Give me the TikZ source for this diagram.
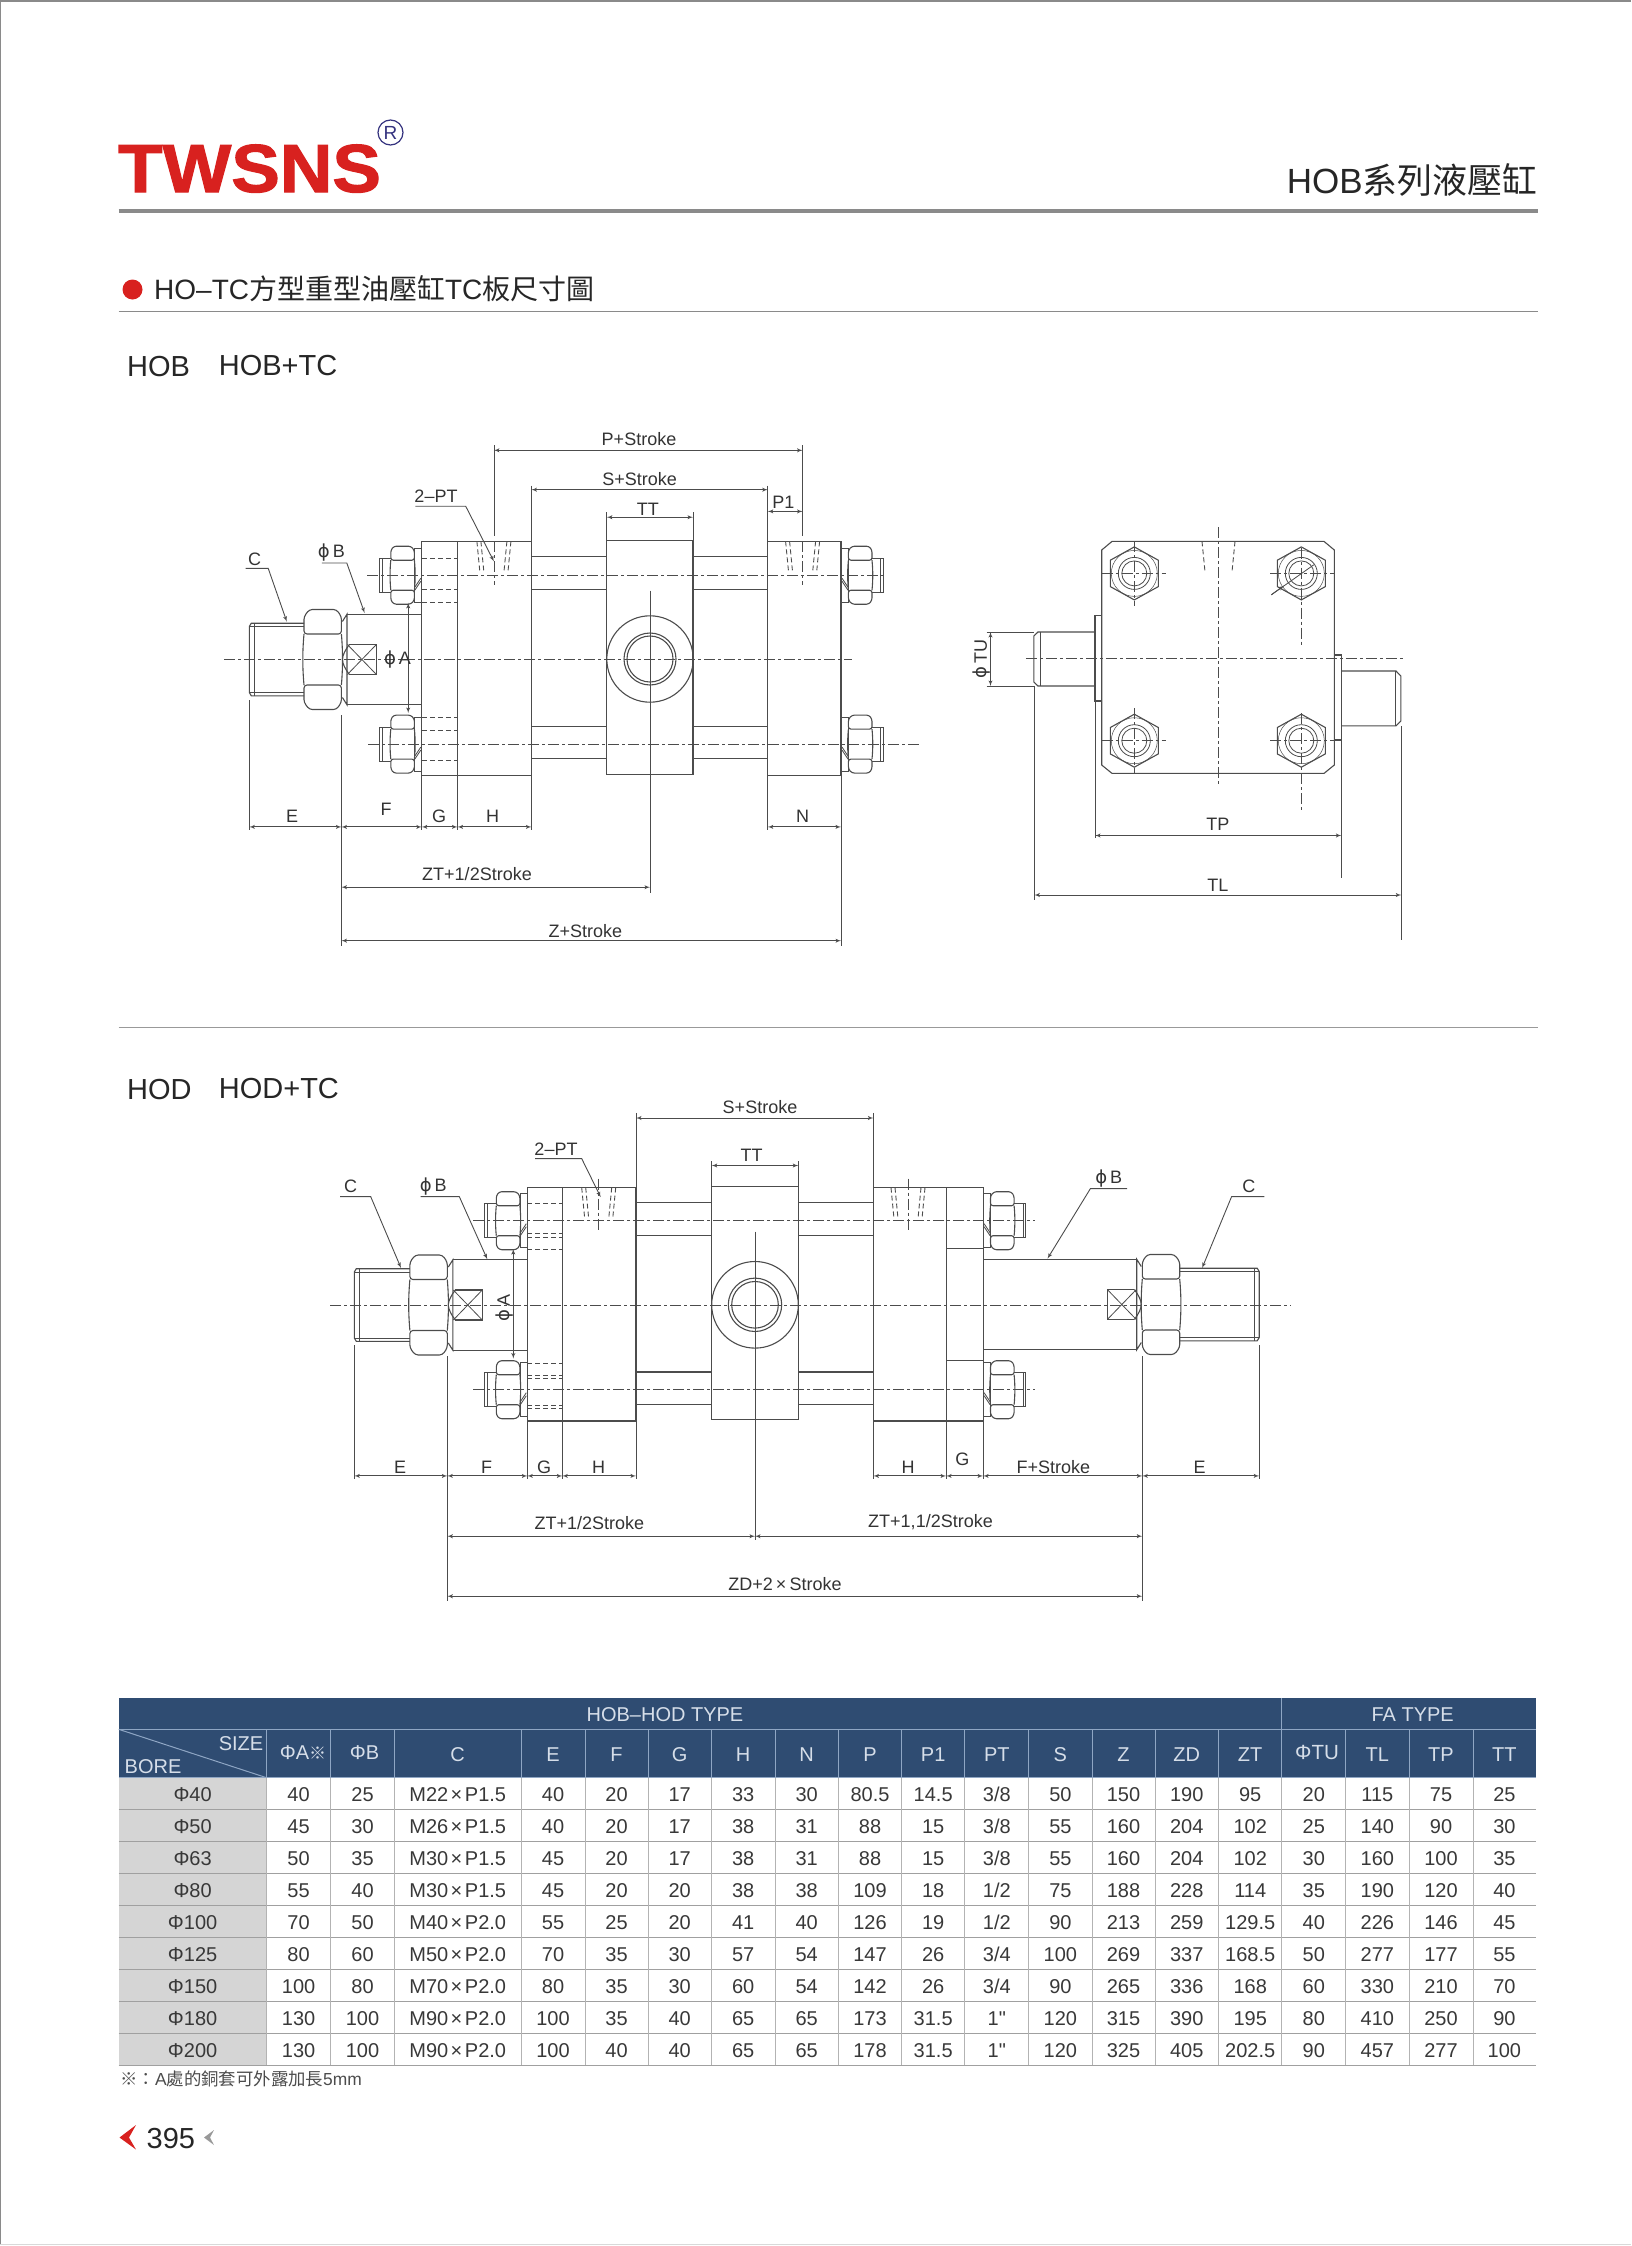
\documentclass[tikz,border=0pt]{standalone}
\usepackage{fontspec}
\setmainfont{Liberation Sans}
\newfontfamily\cjk{Noto Sans CJK TC}
\newfontfamily\symf{DejaVu Sans}
\newfontfamily\rawf{Liberation Sans}
\newfontfamily\logofont{Liberation Sans}[BoldFeatures={FakeBold=1.6}]
\usetikzlibrary{calc}
\usetikzlibrary{arrows}

\definecolor{logored}{HTML}{D8211F}
\definecolor{regblue}{HTML}{35337F}
\definecolor{inkgrey}{HTML}{4C4C4C}
\definecolor{rulegrey}{HTML}{8A8A8A}
\definecolor{tablehead}{HTML}{2F4C72}
\definecolor{headline}{HTML}{8FA6C4}
\definecolor{headtext}{HTML}{D6DEE9}
\definecolor{borefill}{HTML}{D5D5D5}
\definecolor{cellline}{HTML}{A0A0A0}

\tikzset{
  part/.style={draw=inkgrey,line width=1.1pt},
  thinline/.style={draw=inkgrey,line width=.8pt},
  centreline/.style={draw=inkgrey,line width=.75pt,dash pattern=on 11pt off 3pt on 3pt off 3pt},
  hiddenline/.style={draw=inkgrey,line width=.9pt,dash pattern=on 5pt off 3pt},
  dimline/.style={draw=inkgrey,line width=.9pt,latex'-latex'},
  leaderline/.style={draw=inkgrey,line width=.9pt,-latex'},
  dimlabel/.style={inner sep=0pt,text=black!80,font=\fontsize{18}{20}\selectfont},
  cellnum/.style={inner sep=0pt,text=black!78,text height=14pt,text depth=0pt,font=\fontsize{20}{22}\selectfont},
  headcell/.style={inner sep=0pt,text=headtext,text height=14.5pt,text depth=0pt,font=\fontsize{20}{22}\selectfont},
  heading/.style={inner sep=0pt,anchor=base west,text=black!85}
}

\newcommand{\dia}{{\symf ϕ}}
\newcommand{\mby}{\kern2.5pt×\kern2.5pt}

\newcommand{\dimarrow}[5]{
  \coordinate (#1-a) at (#2,#3);
  \coordinate (#1-b) at (#4,#5);
  \draw[dimline] (#1-a) -- (#1-b);
}
\newcommand{\dimtext}[4]{\node[dimlabel] (#1) at (#2,#3) {#4};}
\newcommand{\leader}[6]{
  \coordinate (#1-a) at (#2,#3);
  \coordinate (#1-b) at (#4,#3);
  \coordinate (#1-c) at (#5,#6);
  \draw[leaderline] (#1-a) -- (#1-b) -- (#1-c);
}

\newcommand{\bolt}[3]{
\begin{scope}[shift={(#1,#2)},xscale=#3]
  \draw[part] (0,-27) rectangle (7.2,27);
  \draw[part,rounded corners=2.5pt] (7.4,-15) -- (7.4,-25) -- (11,-29) -- (28,-29) -- (31,-25) -- (31,-15) -- cycle;
  \draw[part,rounded corners=2.5pt] (7.4,15) -- (7.4,25) -- (11,29) -- (28,29) -- (31,25) -- (31,15) -- cycle;
  \draw[part] (7.4,-15) .. controls (6.4,-5) and (6.4,5) .. (7.4,15);
  \draw[part] (31,-15) .. controls (32,-5) and (32,5) .. (31,15);
  \draw[part] (31,-17) -- (42.5,-17) -- (42.5,17) -- (31,17);
  \draw[thinline] (39.8,-17) -- (39.8,17);
  \draw[thinline] (7,12) -- (1,3);
  \draw[thinline] (7,15) -- (1,6);
\end{scope}
}

\newcommand{\rodend}[5]{
\begin{scope}[shift={(#1,#2)},xscale=#3]
  \draw[part,rounded corners=3pt] (0,-25.5) -- (0,-43) -- (5,-50) -- (32,-50) -- (37.4,-43) -- (37.4,-25.5) -- cycle;
  \draw[part,rounded corners=3pt] (0,25.5) -- (0,43) -- (5,50) -- (32,50) -- (37.4,43) -- (37.4,25.5) -- cycle;
  \draw[part] (0,-25.5) .. controls (-1.5,-8) and (-1.5,8) .. (0,25.5);
  \draw[part] (37.4,-25.5) .. controls (39,-8) and (39,8) .. (37.4,25.5);
  \draw[part] (37.4,-36.3) -- ($(#4,-36.3)+(-2,0)$) -- (#4,-33) -- (#4,33) -- ($(#4,36.3)+(-2,0)$) -- (37.4,36.3);
  \draw[thinline] (37.4,-33) -- (#4,-33);
  \draw[thinline] (37.4,33) -- (#4,33);
  \draw[thinline] ($(#4,-36.3)+(-4.6,0)$) -- ($(#4,36.3)+(-4.6,0)$);
  \draw[part] (-1,-38) -- (-5.6,-45.3) -- (-5.6,45.3) -- (-1,38);
  \draw[part] (-5.6,-45.3) -- (-#5,-45.3);
  \draw[part] (-5.6,45.3) -- (-#5,45.3);
  \draw[part] (-8,-15) -- (-35,-15) -- (-35,15) -- (-8,15);
  \draw[part] (-8,-15) .. controls (-4,-10) and (-1,-4) .. (-1,0) .. controls (-1,4) and (-4,10) .. (-8,15);
  \draw[thinline] (-35,-15) -- (-6,15);
  \draw[thinline] (-35,15) -- (-6,-15);
\end{scope}
}

\newcommand{\ports}[4]{
\begin{scope}[shift={(#1,#2)}]
  \draw[centreline] (0,#3) -- (0,#4);
  \draw[hiddenline] (-17,0) -- (-14,31);
  \draw[hiddenline] (-13,0) -- (-10,31);
  \draw[hiddenline] (17,0) -- (14,31);
  \draw[hiddenline] (13,0) -- (10,31);
\end{scope}
}

\newcommand{\boltend}[2]{
\begin{scope}[shift={(#1,#2)}]
  \draw[part] (0,-26.5) -- (24,-13.2) -- (24,13.2) -- (0,26.5) -- (-24,13.2) -- (-24,-13.2) -- cycle;
  \draw[thinline,line width=.5pt] (0,0) circle (23);
  \draw[thinline] (0,0) circle (16);
  \draw[thinline] (0,0) circle (12.5);
\end{scope}
}

\def\colarr{{192.6,298.6,362.5,457.7,553,616.5,679.7,743.2,806.7,870,933.2,996.8,1060.4,1123.5,1186.7,1250.2,1313.8,1377.3,1441,1504.4}}
\newcommand{\tablerow}[3]{
  \foreach \cellval [count=\cellidx] in {#3} {
    \pgfmathsetmacro\cellx{\colarr[\cellidx-1]}
    \node[cellnum] (r#1c\cellidx) at (\cellx,#2) {\cellval};
  }
}

\begin{document}
\begin{tikzpicture}[x=1pt,y=-1pt]
\useasboundingbox (0,0) rectangle (1631,2246);

\draw[draw=rulegrey,line width=2pt] (0,1) -- (1631,1);
\draw[draw=rulegrey,line width=1.2pt] (.6,0) -- (.6,2244);
\draw[draw=black!15,line width=1.2pt] (0,2244.5) -- (1631,2244.5);

\node[inner sep=0pt,anchor=base west,text=logored] (logo) at (118,192)
  {\fontsize{68}{68}\selectfont\logofont\bfseries\scalebox{1.07}[1]{TWSNS}};
\node[draw=regblue,circle,line width=1.2pt,minimum size=25pt,inner sep=0pt,text=regblue,
  font=\fontsize{19}{19}\selectfont] (regmark) at (390.5,132.5) {R};
\node[heading,anchor=base east] (series) at (1538,193)
  {\fontsize{35}{36}\selectfont HOB{\cjk 系列液壓缸}};
\draw[draw=rulegrey,line width=3.5pt] (118.7,211) -- (1538,211);

\node[circle,fill=logored,inner sep=0pt,minimum size=20pt] (bullet) at (132.5,289.5) {};
\node[heading] (title) at (154,299)
  {\fontsize{28}{30}\selectfont HO--TC{\cjk 方型重型油壓缸}TC{\cjk 板尺寸圖}};
\draw[draw=rulegrey,line width=1.3pt] (118.7,311.7) -- (1538,311.7);

\node[heading] (hobname) at (127,376) {\fontsize{29}{30}\selectfont HOB};
\node[heading] (hobtc) at (218.7,375) {\fontsize{29}{30}\selectfont HOB+TC};

\draw[part] (421.8,541.4) rectangle (457.5,775.2);
\draw[part] (457.5,541.4) rectangle (531.4,775.2);
\draw[part] (767.8,541.4) rectangle (841,775.2);
\draw[part] (606.8,540.7) rectangle (693,774.5);
\foreach \y in {556.6,589.7,726.2,758.6} {
  \draw[part] (531.4,\y) -- (606.8,\y);
  \draw[part] (693,\y) -- (767.8,\y);
}
\draw[part] (650,659) circle (43.2);
\draw[part] (650,659) circle (26);
\draw[part] (650,659) circle (23);
\bolt{421.8}{575.2}{-1}
\bolt{421.8}{744.1}{-1}
\bolt{841}{575.2}{1}
\bolt{841}{744.1}{1}
\rodend{341.4}{659.5}{-1}{92.1}{80.4}
\foreach \y in {558,589,602.8,717,730,760.7} {
  \draw[hiddenline] (421.8,\y) -- (457.5,\y);
}
\ports{493.9}{541.4}{0}{44}
\ports{802.6}{541.4}{0}{44}
\draw[centreline] (224,659.7) -- (851.7,659.7);
\draw[centreline] (367,575.2) -- (883,575.2);
\draw[centreline] (368,744.1) -- (918.7,744.1);

\foreach \x/\ya/\yb in {249.3/700/830,341.4/715/946,421.8/775/830,457.5/775/830,531.4/485.5/830,
  767.8/485.5/830,841/775/946,650/590.7/893,606.8/512/540.7,693/512/540.7,493.9/445/535.5,802.6/445/535.5} {
  \draw[thinline] (\x,\ya) -- (\x,\yb);
}
\dimarrow{pstroke}{493.9}{450.3}{802.6}{450.3}
\dimarrow{sstroke}{531.4}{489.7}{767.8}{489.7}
\dimarrow{ttop}{606.8}{517.2}{693}{517.2}
\dimarrow{ponedim}{767.8}{511.4}{802.6}{511.4}
\dimarrow{edim}{249.3}{826.9}{341.4}{826.9}
\dimarrow{fdim}{341.4}{826.9}{421.8}{826.9}
\dimarrow{gdim}{421.8}{826.9}{457.5}{826.9}
\dimarrow{hdim}{457.5}{826.9}{531.4}{826.9}
\dimarrow{ndim}{767.8}{826.9}{841}{826.9}
\dimarrow{ztdim}{341.4}{887.2}{650}{887.2}
\dimarrow{zdim}{341.4}{940.7}{841}{940.7}
\dimarrow{adim}{408.2}{602.8}{408.2}{713}
\dimtext{pstroket}{639}{439}{P+Stroke}
\dimtext{sstroket}{639.6}{479.3}{S+Stroke}
\dimtext{ttopt}{647.9}{509}{TT}
\dimtext{ponet}{783.4}{502}{P1}
\dimtext{et}{292}{816.6}{E}
\dimtext{ft}{386}{809.7}{F}
\dimtext{gt}{439}{816.6}{G}
\dimtext{ht}{492.5}{816.6}{H}
\dimtext{nt}{802.6}{816.6}{N}
\dimtext{ztt}{477}{874}{ZT+1/2Stroke}
\dimtext{zt}{585.4}{931}{Z+Stroke}
\dimtext{at}{397.5}{659.7}{\dia\,A}
\dimtext{twopt}{436}{496.6}{2--PT}
\dimtext{bt}{331.4}{552.8}{\dia\,B}
\dimtext{ct}{254.6}{559}{C}
\leader{twopl}{415.4}{506.2}{465.7}{493.9}{561.4}
\leader{bl}{321.8}{563}{346.8}{364.6}{613}
\leader{cl}{245.7}{568.3}{268.2}{286.8}{621.7}

\draw[part] (1112,541.4) -- (1324,541.4) -- (1334.3,550) -- (1334.3,765) -- (1324,773.4) -- (1112,773.4) -- (1101.7,765) -- (1101.7,550) -- cycle;
\boltend{1134.3}{573.4}
\boltend{1301.3}{573.4}
\boltend{1134.3}{740.7}
\boltend{1301.3}{740.7}
\draw[part] (1101.7,615.9) -- (1095,615.9) -- (1095,701) -- (1101.7,701);
\draw[part] (1095,632) -- (1038,632) -- (1033.8,636) -- (1033.8,682) -- (1038,686) -- (1095,686);
\draw[thinline] (1040,632) -- (1040,686);
\draw[part] (1334.3,655) -- (1341.4,655) -- (1341.4,740) -- (1334.3,740);
\draw[part] (1341.4,671) -- (1396,671) -- (1400.8,676) -- (1400.8,721) -- (1396,725.9) -- (1341.4,725.9);
\draw[thinline] (1395,671) -- (1395,725.9);
\draw[centreline] (1025.8,658.6) -- (1405,658.6);
\draw[centreline] (1218.7,527) -- (1218.7,785.5);
\foreach \y in {573.4,740.7} {
  \draw[centreline] (1101.7,\y) -- (1166.4,\y);
  \draw[centreline] (1270,\y) -- (1334.3,\y);
}
\draw[centreline] (1134.3,541.4) -- (1134.3,606);
\draw[centreline] (1134.3,708) -- (1134.3,773.4);
\draw[centreline] (1301.3,547.6) -- (1301.3,645.9);
\draw[centreline] (1301.3,713) -- (1301.3,813);
\draw[hiddenline] (1202,541.4) -- (1205,571.7);
\draw[hiddenline] (1235,541.4) -- (1232,571.7);
\coordinate (holea) at (1271.3,594.8);
\coordinate (holeb) at (1313.8,564.8);
\coordinate (holec) at (1284,585.6);
\draw[thinline] (holea) -- (holeb);
\draw[leaderline] (holea) -- (holec);

\foreach \x/\ya/\yb in {1095/701/838,1341.4/740/878,1034.3/686/900,1401.3/726/940} {
  \draw[thinline] (\x,\ya) -- (\x,\yb);
}
\draw[thinline] (986.5,632) -- (1033.8,632);
\draw[thinline] (986.5,686) -- (1033.8,686);
\dimarrow{tudim}{990.5}{632}{990.5}{686}
\dimarrow{tpdim}{1095}{835.5}{1341.4}{835.5}
\dimarrow{tldim}{1034.3}{895}{1401.3}{895}
\node[dimlabel,rotate=90] (tut) at (982,659) {\dia\,TU};
\dimtext{tpt}{1217.8}{824}{TP}
\dimtext{tlt}{1217.8}{884.8}{TL}

\draw[draw=black!40,line width=1pt] (118.7,1027.5) -- (1538,1027.5);
\node[heading] (hodname) at (127,1099.5) {\fontsize{29}{30}\selectfont HOD};
\node[heading] (hodtc) at (218.7,1098.5) {\fontsize{29}{30}\selectfont HOD+TC};

\draw[part] (527.3,1187.6) rectangle (562.3,1421);
\draw[part] (562.3,1187.6) rectangle (636,1421);
\draw[part] (711.7,1186.2) rectangle (798.3,1419.7);
\draw[part] (873.4,1187.6) rectangle (946.1,1421);
\draw[part] (946.1,1187.6) rectangle (983.1,1421);
\draw[part] (946.1,1248.5) -- (983.1,1248.5);
\draw[part] (946.1,1360.3) -- (983.1,1360.3);
\foreach \y in {1202.4,1235.2,1372,1404.8} {
  \draw[part] (636,\y) -- (711.7,\y);
  \draw[part] (798.3,\y) -- (873.4,\y);
}
\draw[part] (755,1304.8) circle (43.3);
\draw[part] (755,1304.8) circle (26.7);
\draw[part] (755,1304.8) circle (23.3);
\bolt{527.3}{1220.7}{-1}
\bolt{527.3}{1389.7}{-1}
\bolt{983.1}{1220.7}{1}
\bolt{983.1}{1389.7}{1}
\rodend{447.3}{1305}{-1}{93}{80}
\rodend{1142.3}{1304.5}{1}{116.9}{159.2}
\foreach \y in {1203.5,1233,1237,1249,1363,1375,1378,1405,1408} {
  \draw[hiddenline] (527.3,\y) -- (562.3,\y);
}
\ports{598.7}{1187.6}{-9}{44}
\ports{908}{1187.6}{-9}{44}
\draw[centreline] (330,1305.5) -- (1290.4,1305.5);
\draw[centreline] (473.3,1220.7) -- (1035.4,1220.7);
\draw[centreline] (473.3,1389.7) -- (1035.4,1389.7);

\foreach \x/\ya/\yb in {354.3/1345/1479,447.3/1356/1600.7,527.3/1421/1479,562.3/1421/1479,636/1112.8/1479,
  755/1231.7/1540,711.7/1161/1186.2,798.3/1161/1186.2,873.4/1112.8/1479,946.1/1421/1479,983.1/1421/1479,
  1142.3/1356/1600.7,1259.2/1345/1479} {
  \draw[thinline] (\x,\ya) -- (\x,\yb);
}
\dimarrow{sstrokeb}{636}{1118}{873.4}{1118}
\dimarrow{ttopb}{711.7}{1165.5}{798.3}{1165.5}
\dimarrow{adimb}{513.3}{1249}{513.3}{1358.6}
\dimarrow{edimb}{354.3}{1475.9}{447.3}{1475.9}
\dimarrow{fdimb}{447.3}{1475.9}{527.3}{1475.9}
\dimarrow{gdimb}{527.3}{1475.9}{562.3}{1475.9}
\dimarrow{hdimb}{562.3}{1475.9}{636}{1475.9}
\dimarrow{hdimc}{873.4}{1475.9}{946.1}{1475.9}
\dimarrow{gdimc}{946.1}{1475.9}{983.1}{1475.9}
\dimarrow{fdimc}{983.1}{1475.9}{1142.3}{1475.9}
\dimarrow{edimc}{1142.3}{1475.9}{1259.2}{1475.9}
\dimarrow{ztdimb}{447.3}{1536.2}{755}{1536.2}
\dimarrow{ztdimc}{755}{1536.2}{1142.3}{1536.2}
\dimarrow{zddim}{447.3}{1596.2}{1142.3}{1596.2}
\dimtext{sstroketb}{760}{1107}{S+Stroke}
\dimtext{ttoptb}{751.7}{1155}{TT}
\dimtext{twoptb}{556}{1149}{2--PT}
\dimtext{btb}{433.3}{1186.9}{\dia\,B}
\dimtext{ctb}{350.7}{1186.2}{C}
\dimtext{btc}{1108.7}{1178.6}{\dia\,B}
\dimtext{ctc}{1248.9}{1186.2}{C}
\node[dimlabel,rotate=90] (atb) at (505,1307.6) {\dia\,A};
\dimtext{etb}{400}{1466.9}{E}
\dimtext{ftb}{486.7}{1466.9}{F}
\dimtext{gtb}{544}{1466.9}{G}
\dimtext{htb}{598.7}{1466.9}{H}
\dimtext{htc}{908}{1466.9}{H}
\dimtext{gtc}{962.4}{1459.3}{G}
\dimtext{ftc}{1053.4}{1466.9}{F+Stroke}
\dimtext{etc}{1199.7}{1466.9}{E}
\dimtext{zttb}{589.3}{1523}{ZT+1/2Stroke}
\dimtext{zttc}{930.5}{1522}{ZT+1,1/2Stroke}
\dimtext{zdt}{785}{1584.5}{ZD+2\,×\,Stroke}
\leader{twoplb}{535}{1158.6}{581.7}{600.7}{1197.2}
\leader{blb}{420.7}{1196.6}{459.3}{487.3}{1259.3}
\leader{clb}{340}{1196.6}{370.7}{401}{1268}
\leader{blc}{1127}{1188.6}{1090.4}{1047.5}{1258.6}
\leader{clc}{1264.4}{1196.6}{1231.6}{1202.1}{1268}

\fill[tablehead] (118.7,1698.3) rectangle (1535.9,1777.7);
\fill[borefill] (118.7,1777.7) rectangle (266.6,2065.3);
\draw[draw=headline,line width=1pt] (118.7,1729.3) -- (1535.9,1729.3);
\draw[draw=headline,line width=1pt] (118.7,1777.7) -- (1535.9,1777.7);
\draw[draw=headline,line width=1pt] (118.7,1729.3) -- (266.6,1777.7);
\draw[draw=headline,line width=1pt] (1281.9,1698.3) -- (1281.9,1729.3);
\foreach \y in {1809.3,1841.7,1873.7,1905.7,1937.7,1969.3,2001.7,2033.3,2065.3} {
  \draw[draw=cellline,line width=1.2pt] (118.7,\y) -- (1535.9,\y);
}
\foreach \x in {266.6,330.6,394.5,521,585,648,711.5,775,838.5,901.5,964.9,1028.8,1092,1155,1218.5,1281.9,1345.7,1409,1473} {
  \draw[draw=headline,line width=1pt] (\x,1729.3) -- (\x,1777.7);
  \draw[draw=cellline!80,line width=1pt] (\x,1777.7) -- (\x,2065.3);
}
\node[headcell] (hobhodtype) at (665,1714.7) {HOB--HOD TYPE};
\node[headcell] (fatype) at (1412.7,1714.7) {FA TYPE};
\node[headcell,anchor=east] (sizehead) at (263.5,1743.5) {SIZE};
\node[headcell,anchor=west] (borehead) at (124.5,1766) {BORE};
\node[headcell] (headA) at (303,1752) {ΦA{\cjk\fontsize{17}{17}\selectfont ※}};
\node[headcell] (headB) at (364.5,1752) {ΦB};
\foreach \cellx/\cellval in {457.7/C,553/E,616.5/F,679.7/G,743.2/H,806.7/N,870/P,933.2/P1,996.8/PT,1060.4/S,1123.5/Z,1186.7/ZD,1250.2/ZT,1377.3/TL,1441/TP,1504.4/TT} {
  \node[headcell] (head\cellval) at (\cellx,1754) {\cellval};
}
\node[headcell,font=\fontsize{20.5}{22}\selectfont] (headTU) at (1317,1752) {ΦTU};

\tablerow{1}{1794.5}{Φ40,40,25,M22\mby P1.5,40,20,17,33,30,80.5,14.5,3/8,50,150,190,95,20,115,75,25}
\tablerow{2}{1826.5}{Φ50,45,30,M26\mby P1.5,40,20,17,38,31,88,15,3/8,55,160,204,102,25,140,90,30}
\tablerow{3}{1858.7}{Φ63,50,35,M30\mby P1.5,45,20,17,38,31,88,15,3/8,55,160,204,102,30,160,100,35}
\tablerow{4}{1890.7}{Φ80,55,40,M30\mby P1.5,45,20,20,38,38,109,18,1/2,75,188,228,114,35,190,120,40}
\tablerow{5}{1922.7}{Φ100,70,50,M40\mby P2.0,55,25,20,41,40,126,19,1/2,90,213,259,129.5,40,226,146,45}
\tablerow{6}{1954.5}{Φ125,80,60,M50\mby P2.0,70,35,30,57,54,147,26,3/4,100,269,337,168.5,50,277,177,55}
\tablerow{7}{1986.5}{Φ150,100,80,M70\mby P2.0,80,35,30,60,54,142,26,3/4,90,265,336,168,60,330,210,70}
\tablerow{8}{2018.5}{Φ180,130,100,M90\mby P2.0,100,35,40,65,65,173,31.5,1{\rawf"},120,315,390,195,80,410,250,90}
\tablerow{9}{2050.3}{Φ200,130,100,M90\mby P2.0,100,40,40,65,65,178,31.5,1{\rawf"},120,325,405,202.5,90,457,277,100}

\node[heading,text=black!70,anchor=base west] (footnote) at (120,2085)
  {\fontsize{17.4}{18}\selectfont{\cjk ※：}A{\cjk 處的銅套可外露加長}5mm};
\fill[logored] (136,2125) -- (119.5,2137.5) -- (136,2149.5) -- (129,2137.5) -- cycle;
\node[heading] (pagenum) at (146.5,2148) {\fontsize{29}{30}\selectfont 395};
\fill[black!40] (214,2130) -- (204,2137.5) -- (214,2145) -- (210,2137.5) -- cycle;
\end{tikzpicture}
\end{document}
